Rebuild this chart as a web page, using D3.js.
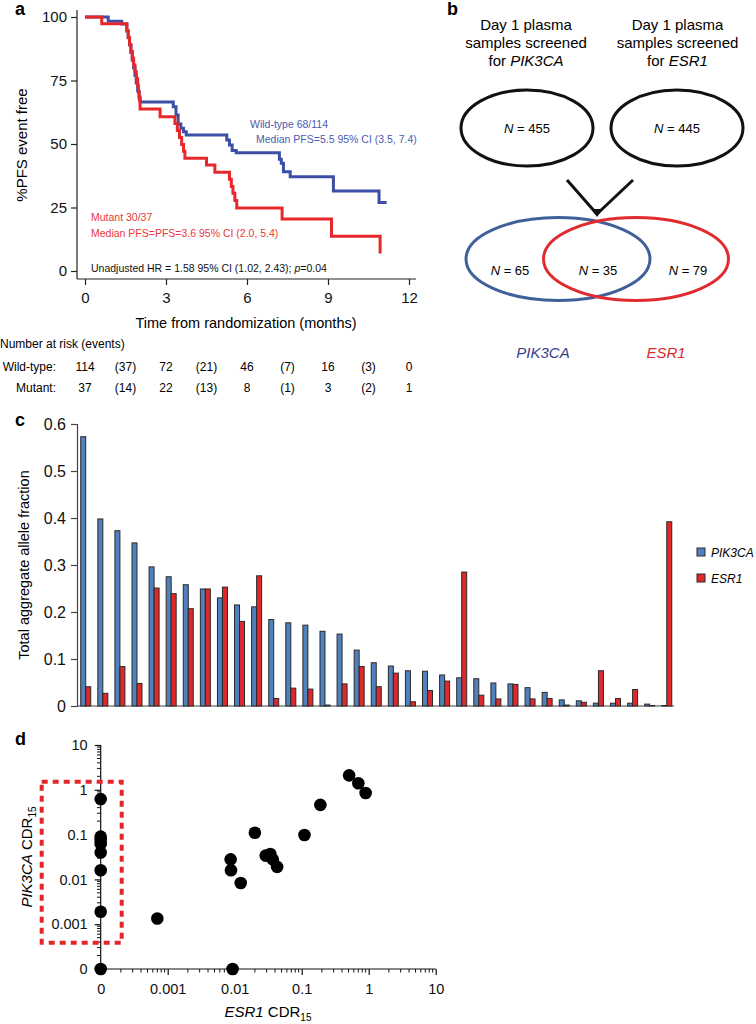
<!DOCTYPE html>
<html><head><meta charset="utf-8">
<script src="https://cdn.jsdelivr.net/npm/d3@7"></script>
<style>body{margin:0;background:#fff} svg{display:block} text{font-family:"Liberation Sans",Arial,Helvetica,sans-serif}</style>
</head><body><svg id="fig" width="756" height="1024"></svg>
<script>
// ---------- Panel a data (Kaplan-Meier) ----------
const wildTime = [0,0.86,1.36,1.55,1.6,1.65,1.7,1.75,1.8,1.85,1.9,1.95,2.0,2.04,3.27,3.37,3.45,3.55,3.65,3.75,5.25,5.35,5.45,5.6,7.2,7.27,7.35,7.6,9.2,10.89,11.17];
const wildSurv = [100,98.3,97.2,94.5,91.8,89,86,83,80,77,74,71,68.5,66.5,64.7,61.4,57.9,56.2,54.8,53.5,51.6,49.6,47.4,46.6,44,42.4,39.1,37.1,31.5,27,27];
const mutTime = [0,0.62,1.55,1.6,1.65,1.7,1.75,1.8,1.85,1.9,1.95,1.98,2.01,2.04,2.78,3.33,3.42,3.5,3.58,3.65,3.7,4.5,4.81,5.35,5.42,5.48,5.55,5.62,7.3,9.13,10.93];
const mutSurv = [100,97.3,94.6,91.9,89.2,86.5,83.8,81.1,78.4,75.7,73,70.3,67.6,63.8,60.7,58.1,55.3,52.6,49.8,47.1,44.4,41.7,38.9,36.1,33.3,30.6,27.8,24.8,20.5,13.7,6.9];
const kmYTicks = [0,25,50,75,100];
const kmXTicks = [0,3,6,9,12];
const riskTimes = [0,1.5,3,4.5,6,7.5,9,10.5,12];
const riskWild = ["114","(37)","72","(21)","46","(7)","16","(3)","0"];
const riskMut = ["37","(14)","22","(13)","8","(1)","3","(2)","1"];

// ---------- Panel b data (Venn) ----------
const screenedN = [455, 445];
const overlapN = [65, 35, 79];

// ---------- Panel c data (bars) ----------
const pik3caAF = [0.573,0.398,0.373,0.347,0.296,0.275,0.258,0.249,0.230,0.215,0.211,0.184,0.177,0.172,0.159,0.153,0.119,0.092,0.085,0.075,0.074,0.066,0.060,0.058,0.049,0.047,0.039,0.029,0.013,0.011,0.006,0.006,0.006,0.004,0.001];
const esr1AF   = [0.041,0.027,0.084,0.048,0.251,0.239,0.207,0.249,0.253,0.180,0.277,0.016,0.038,0.036,0.002,0.047,0.084,0.041,0.070,0.009,0.033,0.053,0.285,0.023,0.015,0.046,0.015,0.016,0.002,0.008,0.075,0.016,0.035,0.001,0.392];
const afTicks = [0,0.1,0.2,0.3,0.4,0.5,0.6];
const afTickLabels = ["0","0.1","0.2","0.3","0.4","0.5","0.6"];

// ---------- Panel d data (scatter, 0 plotted at the axis origin) ----------
const esr1Cdr   = [0,0,0,0,0,0,0,0,0.0007,0.0093,0.0087,0.0088,0.0123,0.020,0.029,0.034,0.037,0.043,0.11,0.19,0.51,0.70,0.90];
const pik3caCdr = [0.62,0.09,0.076,0.062,0.04,0.016,0.0019,0,0.00134,0,0.028,0.016,0.0083,0.11,0.034,0.037,0.028,0.019,0.098,0.46,2.1,1.4,0.85];
const cdrTicks = [1e-4,1e-3,1e-2,1e-1,1,10];
const cdrTickLabels = ["0","0.001","0.01","0.1","1","10"];

const svg = d3.select("#fig");
const FONT = '"Liberation Sans",Arial,Helvetica,sans-serif';

function label(x,y,t){svg.append("text").attr("x",x).attr("y",y).attr("font-size",18).attr("font-weight","bold").text(t);}

// ================= Panel a =================
{
  const g = svg.append("g");
  const x = d3.scaleLinear().domain([0,12]).range([85,409]);
  const y = d3.scaleLinear().domain([0,100]).range([271,17]);
  const axY = d3.axisLeft(y).tickValues(kmYTicks).tickSize(6).tickPadding(4);
  const gy = g.append("g").attr("transform","translate(77,0)").call(axY);
  gy.select(".domain").attr("d","M0,10V279");
  const axX = d3.axisBottom(x).tickValues(kmXTicks).tickSize(6).tickPadding(7);
  const gx = g.append("g").attr("transform","translate(0,279)").call(axX);
  gx.select(".domain").attr("d","M77,0H416");
  g.selectAll(".tick text").attr("font-size",15).attr("font-family",FONT).attr("fill","#111");
  g.selectAll(".domain,.tick line").attr("stroke","#222").attr("stroke-width",1.2);

  const line = d3.line().x(d=>x(d[0])).y(d=>y(d[1])).curve(d3.curveStepAfter);
  g.append("path").datum(wildTime.map((t,i)=>[t,wildSurv[i]])).attr("d",line)
    .attr("fill","none").attr("stroke","#3d4ea6").attr("stroke-width",3);
  g.append("path").datum(mutTime.map((t,i)=>[t,mutSurv[i]])).attr("d",line)
    .attr("fill","none").attr("stroke","#e6282b").attr("stroke-width",3);

  g.append("text").attr("x",250).attr("y",128).attr("font-size",10.5).attr("fill","#4a5ab0").text("Wild-type 68/114");
  g.append("text").attr("x",256).attr("y",143).attr("font-size",10.5).attr("fill","#4a5ab0").text("Median PFS=5.5 95% CI (3.5, 7.4)");
  g.append("text").attr("x",91).attr("y",221).attr("font-size",10.5).attr("fill","#e8383a").text("Mutant 30/37");
  g.append("text").attr("x",91).attr("y",237).attr("font-size",10.5).attr("fill","#e8383a").text("Median PFS=PFS=3.6 95% CI (2.0, 5.4)");
  const hr = g.append("text").attr("x",91).attr("y",272).attr("font-size",10.5).attr("fill","#111");
  hr.append("tspan").text("Unadjusted HR = 1.58 95% CI (1.02, 2.43); ");
  hr.append("tspan").attr("font-style","italic").text("p");
  hr.append("tspan").text("=0.04");

  g.append("text").attr("transform","translate(27,145) rotate(-90)").attr("text-anchor","middle").attr("font-size",15).text("%PFS event free");
  g.append("text").attr("x",246).attr("y",328).attr("text-anchor","middle").attr("font-size",14.5).text("Time from randomization (months)");

  g.append("text").attr("x",0).attr("y",348).attr("font-size",12).text("Number at risk (events)");
  g.append("text").attr("x",56).attr("y",371).attr("text-anchor","end").attr("font-size",12).text("Wild-type:");
  g.append("text").attr("x",56).attr("y",392).attr("text-anchor","end").attr("font-size",12).text("Mutant:");
  g.selectAll(".rw").data(riskTimes).enter().append("text").attr("x",d=>x(d)).attr("y",371)
    .attr("text-anchor","middle").attr("font-size",12).text((d,i)=>riskWild[i]);
  g.selectAll(".rm").data(riskTimes).enter().append("text").attr("x",d=>x(d)).attr("y",392)
    .attr("text-anchor","middle").attr("font-size",12).text((d,i)=>riskMut[i]);
  label(15,15,"a");
}

// ================= Panel b =================
{
  const g = svg.append("g");
  label(447,15,"b");
  const titles = [[526,"PIK3CA"],[677.5,"ESR1"]];
  titles.forEach(([cx,gene])=>{
    g.append("text").attr("x",cx).attr("y",30).attr("text-anchor","middle").attr("font-size",15).text("Day 1 plasma");
    g.append("text").attr("x",cx).attr("y",48).attr("text-anchor","middle").attr("font-size",15).text("samples screened");
    const t = g.append("text").attr("x",cx).attr("y",66).attr("text-anchor","middle").attr("font-size",15);
    t.append("tspan").text("for ");
    t.append("tspan").attr("font-style","italic").text(gene);
  });
  const tops = [527,677];
  tops.forEach((cx,i)=>{
    g.append("ellipse").attr("cx",cx).attr("cy",128).attr("rx",66).attr("ry",38)
      .attr("fill","none").attr("stroke","#111").attr("stroke-width",3);
    const t = g.append("text").attr("x",cx).attr("y",133).attr("text-anchor","middle").attr("font-size",13);
    t.append("tspan").attr("font-style","italic").text("N");
    t.append("tspan").text(" = "+screenedN[i]);
  });
  g.append("path").attr("d","M567,180L596,213M633,180L598,213").attr("stroke","#111").attr("stroke-width",3).attr("fill","none");
  g.append("path").attr("d","M591,209L597,217L603,209Z").attr("fill","#111");
  g.append("ellipse").attr("cx",558).attr("cy",259).attr("rx",92).attr("ry",41.5)
    .attr("fill","none").attr("stroke","#40609a").attr("stroke-width",3);
  g.append("ellipse").attr("cx",636).attr("cy",259).attr("rx",92.5).attr("ry",41.5)
    .attr("fill","none").attr("stroke","#e02c2e").attr("stroke-width",3);
  [510,598,688].forEach((cx,i)=>{
    const t = g.append("text").attr("x",cx).attr("y",275).attr("text-anchor","middle").attr("font-size",13);
    t.append("tspan").attr("font-style","italic").text("N");
    t.append("tspan").text(" = "+overlapN[i]);
  });
  g.append("text").attr("x",543).attr("y",358).attr("text-anchor","middle").attr("font-size",15).attr("font-style","italic").attr("fill","#38408c").text("PIK3CA");
  g.append("text").attr("x",666).attr("y",358).attr("text-anchor","middle").attr("font-size",15).attr("font-style","italic").attr("fill","#e0262b").text("ESR1");
}

// ================= Panel c =================
{
  const g = svg.append("g");
  label(15,426,"c");
  const idx = d3.range(pik3caAF.length);
  const x0 = d3.scaleBand().domain(idx).range([78,674.5]).paddingInner(0.415).paddingOuter(0.16);
  const series = ["PIK3CA","ESR1"];
  const x1 = d3.scaleBand().domain(series).range([0,x0.bandwidth()]);
  const y = d3.scaleLinear().domain([0,0.6]).range([706,424]);
  const color = {PIK3CA:"#4f81bd", ESR1:"#e0282a"};
  const ax = d3.axisLeft(y).tickValues(afTicks).tickFormat((d,i)=>afTickLabels[i]).tickSize(6).tickPadding(5);
  const gy = g.append("g").attr("transform","translate(77,0)").call(ax);
  gy.selectAll(".tick text").attr("font-size",16).attr("font-family",FONT).attr("fill","#111");
  gy.selectAll(".domain,.tick line").attr("stroke","#444").attr("stroke-width",1.2);
  g.append("line").attr("x1",77).attr("x2",674).attr("y1",706).attr("y2",706).attr("stroke","#444").attr("stroke-width",1.2);
  const grp = g.selectAll(".grp").data(idx).enter().append("g").attr("transform",d=>`translate(${x0(d)},0)`);
  grp.selectAll("rect").data(d=>[{k:"PIK3CA",v:pik3caAF[d]},{k:"ESR1",v:esr1AF[d]}]).enter().append("rect")
    .attr("x",d=>x1(d.k)).attr("width",x1.bandwidth()).attr("y",d=>y(d.v)).attr("height",d=>y(0)-y(d.v))
    .attr("fill",d=>color[d.k]).attr("stroke","#2a2a2a").attr("stroke-width",1);
  g.append("text").attr("transform","translate(29,565) rotate(-90)").attr("text-anchor","middle").attr("font-size",14.5).text("Total aggregate allele fraction");
  series.forEach((s,i)=>{
    g.append("rect").attr("x",697).attr("y",548+i*26).attr("width",8).attr("height",8).attr("fill",color[s]).attr("stroke","#2a2a2a").attr("stroke-width",1);
    g.append("text").attr("x",711).attr("y",557+i*26).attr("font-size",12).attr("font-style","italic").text(s);
  });
}

// ================= Panel d =================
{
  const g = svg.append("g");
  label(15,745,"d");
  const x = d3.scaleLog().domain([1e-4,10]).range([100.7,435.7]);
  const y = d3.scaleLog().domain([1e-4,10]).range([969,745]);
  const fx = v => x(v<=0?1e-4:v), fy = v => y(v<=0?1e-4:v);
  const minor = [];
  for(let e=-4;e<1;e++) for(let m=2;m<=9;m++) minor.push(m*Math.pow(10,e));
  g.selectAll(".mx").data(minor).enter().append("line").attr("x1",d=>x(d)).attr("x2",d=>x(d)).attr("y1",969).attr("y2",972.5).attr("stroke","#111");
  g.selectAll(".my").data(minor).enter().append("line").attr("y1",d=>y(d)).attr("y2",d=>y(d)).attr("x1",100.7).attr("x2",97).attr("stroke","#111");
  const axX = d3.axisBottom(x).tickValues(cdrTicks).tickFormat((d,i)=>cdrTickLabels[i]).tickSize(6).tickPadding(9);
  const axY = d3.axisLeft(y).tickValues(cdrTicks).tickFormat((d,i)=>cdrTickLabels[i]).tickSize(6).tickPadding(7);
  const gx = g.append("g").attr("transform","translate(0,969)").call(axX);
  const gy = g.append("g").attr("transform","translate(100.7,0)").call(axY);
  g.selectAll(".tick text").attr("font-size",14.5).attr("font-family",FONT).attr("fill","#111");
  g.selectAll(".domain,.tick line").attr("stroke","#111").attr("stroke-width",1.2);
  gx.select(".domain").attr("d","M100.7,0H435.7");
  gy.select(".domain").attr("d","M0,745V969");

  g.append("rect").attr("x",41.7).attr("y",781.7).attr("width",80).attr("height",161)
    .attr("fill","none").attr("stroke","#e4262a").attr("stroke-width",4).attr("stroke-dasharray","6,5");

  g.selectAll(".pt").data(esr1Cdr.map((v,i)=>[v,pik3caCdr[i]])).enter().append("circle")
    .attr("cx",d=>fx(d[0])).attr("cy",d=>fy(d[1])).attr("r",6.3).attr("fill","#000");

  const xt = g.append("text").attr("x",268).attr("y",1017).attr("text-anchor","middle").attr("font-size",15);
  xt.append("tspan").attr("font-style","italic").text("ESR1");
  xt.append("tspan").text(" CDR");
  xt.append("tspan").attr("font-size",10).attr("dy",4).text("15");
  const yt = g.append("text").attr("transform","translate(32,857) rotate(-90)").attr("text-anchor","middle").attr("font-size",15);
  yt.append("tspan").attr("font-style","italic").text("PIK3CA");
  yt.append("tspan").text(" CDR");
  yt.append("tspan").attr("font-size",10).attr("dy",4).text("15");
}
</script></body></html>
